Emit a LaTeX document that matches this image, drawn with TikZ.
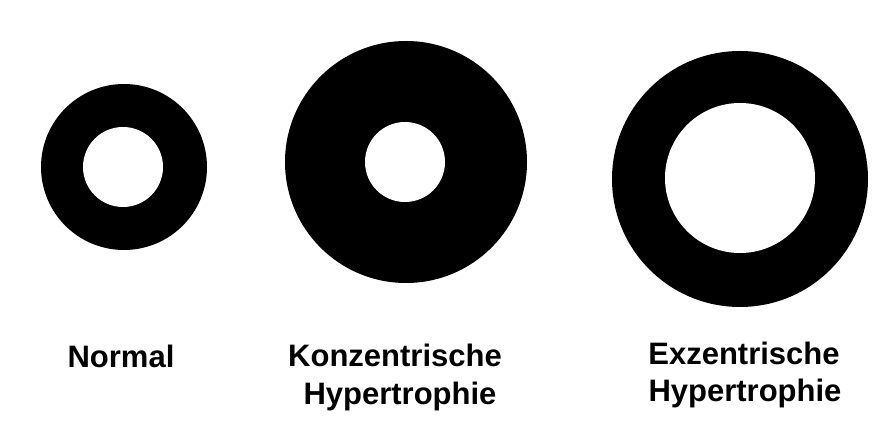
\documentclass[tikz,border=0pt]{standalone}
\usepackage{fontspec}
\setmainfont{Liberation Sans}
\begin{document}
\begin{tikzpicture}[x=1pt,y=-1pt,
  outerring/.style={circle,fill=black,inner sep=0pt,draw=none},
  innerhole/.style={circle,fill=white,inner sep=0pt,draw=none},
  lbl/.style={anchor=base,inner sep=0pt,font=\fontsize{31}{36}\selectfont\bfseries}]
\useasboundingbox[fill=white] (0,0) rectangle (895,430);
% Normal
\node[outerring,minimum size=166pt] (n1) at (124,167) {};
\node[innerhole,minimum size=80pt] (n2) at (123,167) {};
% Konzentrisch
\node[outerring,minimum size=242pt] (k1) at (406,162) {};
\node[innerhole,minimum size=80pt] (k2) at (405,162) {};
% Exzentrisch
\node[outerring,minimum size=256pt] (e1) at (740,179) {};
\node[innerhole,minimum size=150pt] (e2) at (740,178) {};
% Labels
\node[lbl] (tn) at (121,368) {Normal};
\node[lbl] (tk1) at (395,367) {Konzentrische};
\node[lbl] (tk2) at (400,405) {Hypertrophie};
\node[lbl] (te1) at (744,365) {Exzentrische};
\node[lbl] (te2) at (745,402) {Hypertrophie};
\end{tikzpicture}
\end{document}
